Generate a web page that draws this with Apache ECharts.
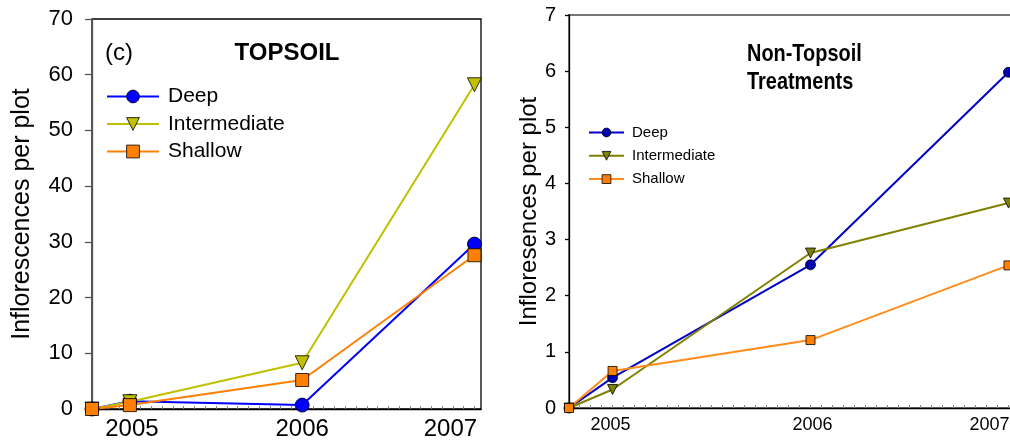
<!DOCTYPE html>
<html>
<head>
<meta charset="utf-8">
<script src="https://cdn.jsdelivr.net/npm/echarts@6/dist/echarts.min.js"></script>
<style>
  html, body { margin: 0; padding: 0; background: #fff; }
  #chart { width: 1010px; height: 442px; }
</style>
</head>
<body>
<div id="chart"></div>
<script>
// Sampling times: planting baseline, then one census per year
const sampleYears = [2004.78, 2005, 2006, 2007];
const yearTickValues = [2005, 2006, 2007];
const yearTickLabels = ['2005', '2006', '2007'];

// (c) TOPSOIL treatments - inflorescences per plot
const topsoilDeep = [0, 1.4, 0.7, 29.6];
const topsoilIntermediate = [0, 1.3, 8.3, 58.2];
const topsoilShallow = [0, 0.7, 5.2, 27.6];

// Non-topsoil treatments - inflorescences per plot
const nonTopsoilDeep = [0, 0.54, 2.55, 5.98];
const nonTopsoilIntermediate = [0, 0.33, 2.76, 3.65];
const nonTopsoilShallow = [0, 0.66, 1.21, 2.54];

const seriesNames = ['Deep', 'Intermediate', 'Shallow'];
const topsoilTicks = [0, 10, 20, 30, 40, 50, 60, 70];
const nonTopsoilTicks = [0, 1, 2, 3, 4, 5, 6, 7];

const FONT = 'Liberation Sans, Arial, sans-serif';
const X_MIN = 2004.78;
const X_MAX = 2007.038;
const downTriangle = 'path://M0,0L10,0L5,9Z';

function pairs(values) {
  return values.map((v, i) => [sampleYears[i], v]);
}

// small inward minor ticks along the time axis
function minorTicks(step) {
  const out = [];
  for (let t = 2005; t >= X_MIN; t -= step) out.push(t);
  for (let t = 2005 + step; t <= X_MAX; t += step) out.push(t);
  return out;
}

function yearAxis(gridIndex, fontSize, shifts, tickStep) {
  const rich = {};
  yearTickLabels.forEach((lab, i) => {
    const s = shifts[i];
    rich['s' + i] = {
      fontSize: fontSize, fontFamily: FONT, color: '#000',
      padding: s >= 0 ? [0, 0, 0, 2 * s] : [0, -2 * s, 0, 0]
    };
  });
  return {
    type: 'value', gridIndex: gridIndex, min: X_MIN, max: X_MAX,
    splitLine: { show: false },
    axisLine: { show: true, onZero: false, lineStyle: { color: '#000', width: 1.3 } },
    axisTick: {
      show: true, inside: true, length: 3,
      customValues: minorTicks(tickStep),
      lineStyle: { color: '#888', width: 1 }
    },
    axisLabel: {
      customValues: yearTickValues,
      margin: 8,
      fontSize: fontSize, fontFamily: FONT, color: '#000',
      hideOverlap: false,
      formatter: (v) => {
        const i = yearTickValues.indexOf(Math.round(v));
        return '{s' + i + '|' + yearTickLabels[i] + '}';
      },
      rich: rich
    }
  };
}

function countAxis(gridIndex, ticks, name, opts) {
  return {
    type: 'value', gridIndex: gridIndex,
    min: ticks[0], max: ticks[ticks.length - 1], interval: ticks[1] - ticks[0],
    name: name, nameLocation: 'middle', nameRotate: 90, nameGap: opts.nameGap,
    nameTextStyle: { fontSize: opts.nameSize, fontFamily: FONT, color: '#000' },
    splitLine: { show: false },
    axisLine: { show: true, lineStyle: { color: opts.lineColor, width: 1.3 } },
    axisTick: { show: true, length: opts.tickLen, lineStyle: { color: opts.lineColor, width: 1.3 } },
    axisLabel: { fontSize: opts.labelSize, fontFamily: FONT, color: '#000', margin: opts.labelMargin }
  };
}

const symbols = ['circle', downTriangle, 'rect'];

function lineSeries(name, values, idx, color, markerColor, symbolSize, width) {
  return {
    type: 'line', name: name, xAxisIndex: idx, yAxisIndex: idx,
    data: pairs(values),
    symbol: symbols[seriesNames.indexOf(name)],
    symbolSize: symbolSize,
    showAllSymbol: true,
    animation: false,
    lineStyle: { color: color, width: width },
    itemStyle: { color: markerColor, borderColor: '#000', borderWidth: 0.8 }
  };
}

const topColors = ['#0000ff', '#c0c000', '#ff8000'];
const nonTopColors = ['#0000c8', '#808000', '#ff8c1a'];
const nonTopMarkers = ['#0000b0', '#808000', '#ff8000'];

function legendData(colors, markers) {
  return seriesNames.map((n, i) => ({
    name: n,
    itemStyle: { color: markers[i], borderColor: '#000', borderWidth: 0.8 },
    lineStyle: { color: colors[i], width: 2 }
  }));
}

const chart = echarts.init(document.getElementById('chart'), null, { renderer: 'canvas' });

chart.setOption({
  backgroundColor: '#fff',
  animation: false,
  grid: [
    { left: 92, right: 529, top: 19, bottom: 33, show: true, borderColor: '#000', borderWidth: 1.3,
      containLabel: false, outerBoundsMode: 'none' },
    { left: 569, right: -6, top: 15, bottom: 34, show: true, borderColor: '#777', borderWidth: 2,
      containLabel: false, outerBoundsMode: 'none' }
  ],
  xAxis: [
    yearAxis(0, 24, [2, 0, -24], 1 / 16),
    yearAxis(1, 18, [-2, 2, -19], 1 / 18)
  ],
  yAxis: [
    countAxis(0, topsoilTicks, 'Inflorescences per plot',
      { nameGap: 57, nameSize: 25, labelSize: 22, labelMargin: 19, tickLen: 7, lineColor: '#555' }),
    countAxis(1, nonTopsoilTicks, 'Infloresences per plot',
      { nameGap: 28, nameSize: 24, labelSize: 20, labelMargin: 13, tickLen: 4, lineColor: '#000' })
  ],
  legend: [
    {
      orient: 'vertical', left: 106, top: 86, padding: 0,
      itemWidth: 52, itemHeight: 16, itemGap: 6.5,
      selectedMode: false,
      textStyle: { fontSize: 21, fontFamily: FONT, color: '#000', padding: [0, 0, 0, 4] },
      data: legendData(topColors, topColors)
    },
    {
      orient: 'vertical', left: 588, top: 125, padding: 0,
      itemWidth: 35, itemHeight: 11, itemGap: 8.3,
      selectedMode: false,
      textStyle: { fontSize: 15, fontFamily: FONT, color: '#000', padding: [0, 0, 0, 3] },
      data: legendData(nonTopColors, nonTopMarkers)
    }
  ],
  graphic: [
    { type: 'text', x: 105, y: 53, style: { text: '(c)', fontSize: 24, fontFamily: FONT, fill: '#000', textAlign: 'left', textVerticalAlign: 'middle' } },
    { type: 'text', x: 287, y: 53, style: { text: 'TOPSOIL', fontSize: 24, fontWeight: 'bold', fontFamily: FONT, fill: '#000', textAlign: 'center', textVerticalAlign: 'middle' } },
    { type: 'text', x: 747, y: 54, scaleX: 0.83, style: { text: 'Non-Topsoil', fontSize: 24, fontWeight: 'bold', fontFamily: FONT, fill: '#000', textAlign: 'left', textVerticalAlign: 'middle' } },
    { type: 'text', x: 747, y: 82, scaleX: 0.83, style: { text: 'Treatments', fontSize: 24, fontWeight: 'bold', fontFamily: FONT, fill: '#000', textAlign: 'left', textVerticalAlign: 'middle' } }
  ],
  series: [
    lineSeries('Deep', topsoilDeep, 0, topColors[0], topColors[0], 14, 2),
    lineSeries('Intermediate', topsoilIntermediate, 0, topColors[1], topColors[1], 14, 2),
    lineSeries('Shallow', topsoilShallow, 0, topColors[2], topColors[2], 13, 2),
    lineSeries('Deep', nonTopsoilDeep, 1, nonTopColors[0], nonTopMarkers[0], 10, 2),
    lineSeries('Intermediate', nonTopsoilIntermediate, 1, nonTopColors[1], nonTopMarkers[1], 10, 2),
    lineSeries('Shallow', nonTopsoilShallow, 1, nonTopColors[2], nonTopMarkers[2], 9, 2)
  ]
});
</script>
</body>
</html>
